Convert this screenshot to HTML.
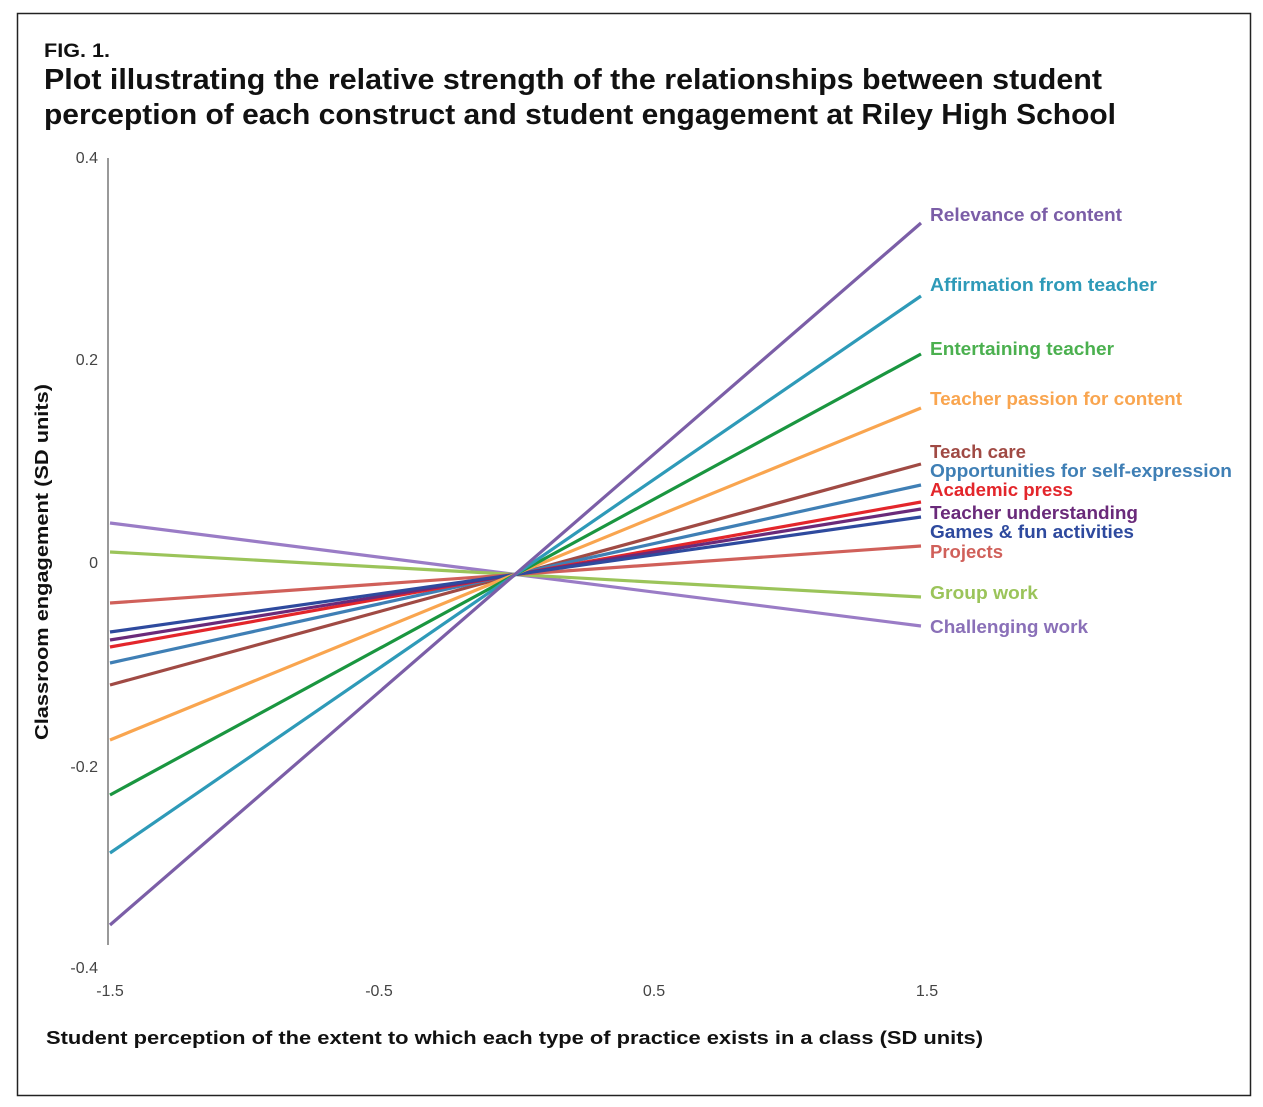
<!DOCTYPE html>
<html><head><style>body{margin:0;background:#fff}svg{display:block}</style></head><body>
<svg width="1263" height="1107" xmlns="http://www.w3.org/2000/svg" font-family="Liberation Sans, sans-serif">
<rect x="17.5" y="13.5" width="1233" height="1082" fill="none" stroke="#222" stroke-width="1.5"/>
<text x="44" y="57" font-size="19" font-weight="bold" fill="#111" textLength="66" lengthAdjust="spacingAndGlyphs">FIG. 1.</text>
<text x="44" y="89" font-size="29" font-weight="bold" fill="#111" textLength="1058" lengthAdjust="spacingAndGlyphs">Plot illustrating the relative strength of the relationships between student</text>
<text x="44" y="124" font-size="29" font-weight="bold" fill="#111" textLength="1072" lengthAdjust="spacingAndGlyphs">perception of each construct and student engagement at Riley High School</text>
<line x1="108" y1="158" x2="108" y2="945" stroke="#999" stroke-width="2"/>
<g font-size="16" fill="#444" text-anchor="end">
<text x="98" y="163">0.4</text><text x="98" y="365">0.2</text><text x="98" y="568">0</text><text x="98" y="772">-0.2</text><text x="98" y="973">-0.4</text>
</g>
<g font-size="16" fill="#444" text-anchor="middle">
<text x="110" y="996">-1.5</text><text x="379" y="996">-0.5</text><text x="654" y="996">0.5</text><text x="927" y="996">1.5</text>
</g>
<text transform="translate(48,562) rotate(-90)" font-size="18" font-weight="bold" fill="#111" text-anchor="middle" textLength="356" lengthAdjust="spacingAndGlyphs">Classroom engagement (SD units)</text>
<text x="46" y="1044" font-size="18" font-weight="bold" fill="#111" textLength="937" lengthAdjust="spacingAndGlyphs">Student perception of the extent to which each type of practice exists in a class (SD units)</text>
<g stroke-width="3.2" fill="none">
<line x1="110" y1="523" x2="921" y2="626" stroke="#9a7cc6"/>
<line x1="110" y1="552" x2="921" y2="597" stroke="#9bc45a"/>
<line x1="110" y1="603" x2="921" y2="546" stroke="#d0605a"/>
<line x1="110" y1="685" x2="921" y2="464" stroke="#a04a44"/>
<line x1="110" y1="663" x2="921" y2="485" stroke="#3f7fb5"/>
<line x1="110" y1="647" x2="921" y2="502" stroke="#e3262b"/>
<line x1="110" y1="640" x2="921" y2="509" stroke="#6a2a7a"/>
<line x1="110" y1="632" x2="921" y2="517" stroke="#2e4a9e"/>
<line x1="110" y1="740" x2="921" y2="408" stroke="#f9a54f"/>
<line x1="110" y1="795" x2="921" y2="354" stroke="#1a9640"/>
<line x1="110" y1="853" x2="921" y2="296" stroke="#2e9ab8"/>
<line x1="110" y1="925" x2="921" y2="223" stroke="#7b5ea7"/>
</g>
<g font-size="18" font-weight="bold">
<text x="930" y="221" fill="#7b5ea7" textLength="192" lengthAdjust="spacingAndGlyphs">Relevance of content</text>
<text x="930" y="291" fill="#2e9ab8" textLength="227" lengthAdjust="spacingAndGlyphs">Affirmation from teacher</text>
<text x="930" y="355" fill="#4bb04f" textLength="184" lengthAdjust="spacingAndGlyphs">Entertaining teacher</text>
<text x="930" y="405" fill="#f9a54f" textLength="252" lengthAdjust="spacingAndGlyphs">Teacher passion for content</text>
<text x="930" y="458" fill="#a04a44" textLength="96" lengthAdjust="spacingAndGlyphs">Teach care</text>
<text x="930" y="477" fill="#3f7fb5" textLength="302" lengthAdjust="spacingAndGlyphs">Opportunities for self-expression</text>
<text x="930" y="496" fill="#e3262b" textLength="143" lengthAdjust="spacingAndGlyphs">Academic press</text>
<text x="930" y="519" fill="#6a2a7a" textLength="208" lengthAdjust="spacingAndGlyphs">Teacher understanding</text>
<text x="930" y="538" fill="#2e4a9e" textLength="204" lengthAdjust="spacingAndGlyphs">Games &amp; fun activities</text>
<text x="930" y="558" fill="#d0605a" textLength="73" lengthAdjust="spacingAndGlyphs">Projects</text>
<text x="930" y="599" fill="#9bc45a" textLength="108" lengthAdjust="spacingAndGlyphs">Group work</text>
<text x="930" y="633" fill="#8a70b8" textLength="158" lengthAdjust="spacingAndGlyphs">Challenging work</text>
</g>
</svg>
</body></html>
